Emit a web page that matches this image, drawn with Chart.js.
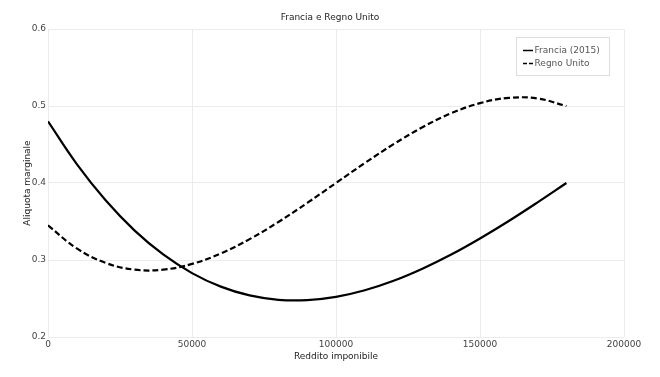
<!DOCTYPE html>
<html><head><meta charset="utf-8">
<script src="https://cdn.jsdelivr.net/npm/chart.js@4/dist/chart.umd.min.js"></script>
<style>html,body{margin:0;padding:0;background:#fff}#wrap{width:660px;height:377px}</style>
</head><body><div id="wrap"><canvas id="c" width="660" height="377"></canvas></div>
<script>
const chartTitle = 'Francia e Regno Unito';
const xTitle = 'Reddito imponibile';
const yTitle = 'Aliquota marginale';
const seriesNames = ['Francia (2015)', 'Regno Unito'];
const incomes = [0,10000,20000,30000,40000,50000,60000,70000,80000,90000,100000,110000,120000,130000,140000,150000,160000,170000,180000];
const francia = [0.480,0.4245,0.3775,0.3385,0.3072,0.2830,0.2654,0.2540,0.2483,0.2479,0.2521,0.2607,0.2730,0.2887,0.3071,0.3280,0.3507,0.3749,0.4000];
const regnoUnito = [0.345,0.3150,0.2963,0.2875,0.2875,0.2949,0.3085,0.3271,0.3494,0.3741,0.4000,0.4259,0.4504,0.4724,0.4906,0.5037,0.5105,0.5097,0.5000];
const xTicks = [0,50000,100000,150000,200000];
const yTicks = [0.2,0.3,0.4,0.5,0.6];

const FONT = 'DejaVu Sans';
const dashPattern = [6,3];

const titleLegendPlugin = {
  id: 'titleLegend',
  afterDraw(chart) {
    const ctx = chart.ctx;
    ctx.save();
    // title centred on the full canvas
    ctx.font = '9px "' + FONT + '"';
    ctx.fillStyle = '#222';
    ctx.textAlign = 'center';
    ctx.textBaseline = 'middle';
    ctx.fillText(chartTitle, chart.width / 2, 18);
    // boxed legend inside the plot
    const x0 = 516.5, y0 = 37.5, w = 93, h = 38;
    ctx.fillStyle = '#ffffff';
    ctx.fillRect(x0, y0, w, h);
    ctx.strokeStyle = '#dddddd';
    ctx.lineWidth = 1;
    ctx.strokeRect(x0, y0, w, h);
    ctx.textAlign = 'left';
    const rows = [50.5, 63.5];
    chart.data.datasets.forEach((ds, i) => {
      const y = rows[i];
      ctx.strokeStyle = '#000';
      ctx.lineWidth = 1.5;
      ctx.setLineDash(ds.borderDash && ds.borderDash.length ? [4,2] : []);
      ctx.beginPath();
      ctx.moveTo(523, y);
      ctx.lineTo(533, y);
      ctx.stroke();
      ctx.setLineDash([]);
      ctx.fillStyle = '#555';
      ctx.fillText(ds.label, 534.5, y);
    });
    ctx.restore();
  }
};

new Chart(document.getElementById('c'), {
  type: 'line',
  data: {
    datasets: [
      {label: seriesNames[0], data: incomes.map((x,i)=>({x, y: francia[i]})), borderColor:'#000', borderWidth:2.2, pointRadius:0, tension:0.4, fill:false},
      {label: seriesNames[1], data: incomes.map((x,i)=>({x, y: regnoUnito[i]})), borderColor:'#000', borderWidth:2.2, borderDash: dashPattern, pointRadius:0, tension:0.4, fill:false}
    ]
  },
  options: {
    responsive: false,
    animation: false,
    devicePixelRatio: 1,
    layout: {padding: {left:0, right:36, top:29, bottom:0}},
    plugins: {
      legend: {display:false},
      tooltip: {enabled:false},
      title: {display:false}
    },
    scales: {
      x: {
        type:'linear', min:0, max:200000,
        afterBuildTicks: s => { s.ticks = xTicks.map(v=>({value:v})); },
        afterFit: s => { s.height = 40; },
        grid: {color:'#ebebeb', drawTicks:false, lineWidth:1},
        border: {display:false},
        ticks: {color:'#444', padding:2, maxRotation:0, autoSkip:false, font:{family:FONT, size:9}, callback: v => String(v)},
        title: {display:true, text:xTitle, color:'#222', font:{family:FONT, size:9}, padding:{top:0, bottom:15}}
      },
      y: {
        type:'linear', min:0.2, max:0.6,
        afterBuildTicks: s => { s.ticks = yTicks.map(v=>({value:v})); },
        afterFit: s => { s.width = 48; },
        grid: {color:'#ebebeb', drawTicks:false, lineWidth:1},
        border: {display:false},
        ticks: {color:'#444', padding:2, autoSkip:false, font:{family:FONT, size:9}, callback: v => v.toFixed(1)},
        title: {display:true, text:yTitle, color:'#222', font:{family:FONT, size:9}, padding:{top:22, bottom:0}}
      }
    }
  },
  plugins: [titleLegendPlugin]
});
</script>
</body></html>
